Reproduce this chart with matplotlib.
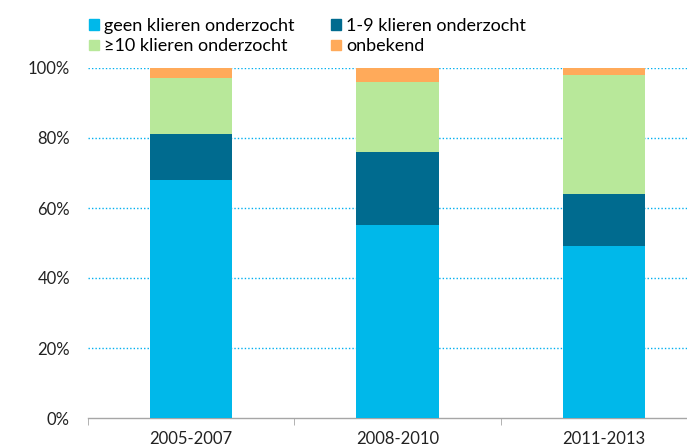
import numpy as np
import matplotlib.pyplot as plt
from matplotlib.patches import Patch

plt.rcParams['font.family'] = ['Lato', 'DejaVu Sans']

periods = ['2005-2007', '2008-2010', '2011-2013']
series = ['geen klieren onderzocht', '1-9 klieren onderzocht',
          '≥10 klieren onderzocht', 'onbekend']
geen = [68, 55, 49]
een_tot_negen = [13, 21, 15]
tien_plus = [16, 20, 34]
onbekend = [3, 4, 2]
colors = ['#00B8EA', '#006B8F', '#B8E89A', '#FFAA5A']

fig = plt.figure(figsize=(6.87, 4.48), dpi=100)
ax = fig.add_axes([88 / 687, 30 / 448, 619 / 687, 350 / 448])

x = np.arange(len(periods))
bottom = np.zeros(len(periods))
for vals, col in zip([geen, een_tot_negen, tien_plus, onbekend], colors):
    ax.bar(x, vals, width=0.4, bottom=bottom, color=col, zorder=3)
    bottom += np.array(vals)

ax.set_xlim(-0.5, 2.5)
ax.set_ylim(0, 100)
ax.set_yticks([0, 20, 40, 60, 80, 100])
ax.set_yticklabels(['0%', '20%', '40%', '60%', '80%', '100%'])
ax.set_xticks(x)
ax.set_xticklabels(periods)
ax.tick_params(axis='y', length=0, pad=13, labelsize=12, colors='#222222')
ax.tick_params(axis='x', length=0, pad=9, labelsize=12, colors='#222222')

# category boundary ticks on the x axis
ax.set_xticks([-0.5, 0.5, 1.5, 2.5], minor=True)
ax.tick_params(axis='x', which='minor', length=5, color='#A6A6A6')

for y in [20, 40, 60, 80, 100]:
    ax.axhline(y, color='#00B0F0', linestyle=(0, (1, 1.5)), linewidth=1, zorder=1)

for side in ['top', 'right', 'left']:
    ax.spines[side].set_visible(False)
ax.spines['bottom'].set_color('#A6A6A6')
ax.spines['bottom'].set_linewidth(1)

# legend in two columns: geen | 1-9 on top, >=10 | onbekend below
handles = [Patch(color=c) for c in colors]
order = [0, 2, 1, 3]
fig.legend([handles[i] for i in order], [series[i] for i in order],
           ncol=2, loc='upper left', bbox_to_anchor=(89 / 687, 1 - 18 / 448),
           frameon=False, fontsize=13, handlelength=0.55, handleheight=0.55,
           handletextpad=0.3, columnspacing=2.0, labelspacing=0.24,
           borderaxespad=0, borderpad=0)

fig.savefig('out.png', dpi=100)
